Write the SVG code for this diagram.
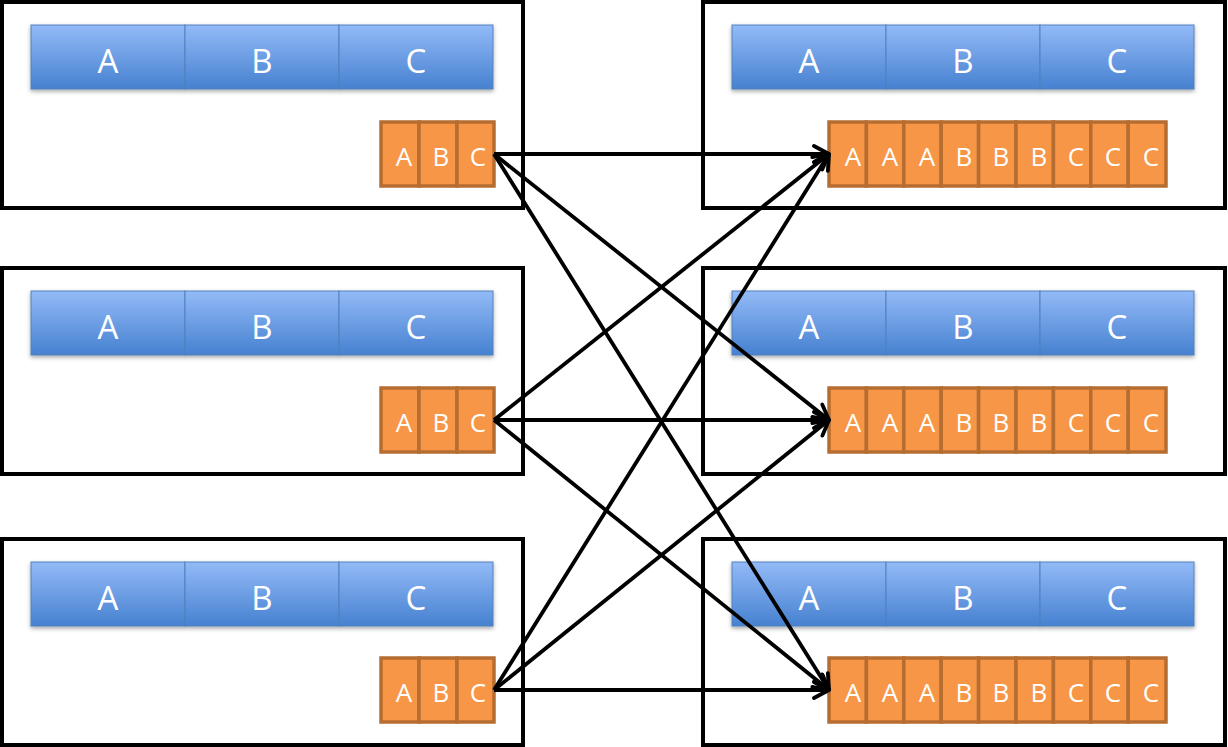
<svg xmlns="http://www.w3.org/2000/svg" width="1228" height="747" viewBox="0 0 1228 747">
<style>
.frame{fill:#fff;stroke:#000;stroke-width:4}
.blue{fill:url(#bg);stroke:#4f81bd;stroke-width:1.2;stroke-opacity:.8}
.org{fill:#f79646;stroke:#b66d31;stroke-width:3.5}
.bt{font-family:"Open Sans","Liberation Sans",sans-serif;font-size:33px;fill:#fff;text-anchor:middle}
.ot{font-family:"Open Sans","Liberation Sans",sans-serif;font-size:26px;fill:#fff;text-anchor:middle}
.conn{stroke:#000;stroke-width:3.8;fill:none;marker-end:url(#ah)}
</style>
<defs>
<linearGradient id="bg" x1="0" y1="0" x2="0" y2="1">
<stop offset="0" stop-color="#93baf7"/>
<stop offset="1" stop-color="#4681d0"/>
</linearGradient>
<filter id="sh" x="-5%" y="-20%" width="110%" height="160%">
<feDropShadow dx="0" dy="2" stdDeviation="2" flood-color="#000" flood-opacity="0.35"/>
</filter>
<marker id="ah" viewBox="0 0 20 20" refX="18" refY="10" markerWidth="20" markerHeight="20" markerUnits="userSpaceOnUse" orient="auto">
<path d="M3,2 L18,10 L3,18" fill="none" stroke="#000" stroke-width="3.8" stroke-linecap="round" stroke-linejoin="round"/>
</marker>
<g id="blueBar">
<g filter="url(#sh)">
<rect class="blue" x="0" y="0" width="154" height="64"/>
<rect class="blue" x="154" y="0" width="154" height="64"/>
<rect class="blue" x="308" y="0" width="154" height="64"/>
</g>
<text class="bt" x="77" y="48">A</text>
<text class="bt" x="231" y="48">B</text>
<text class="bt" x="385" y="48">C</text>
</g>
<g id="smallOrg">
<rect class="org" x="0" y="0" width="38" height="64"/>
<rect class="org" x="38" y="0" width="38" height="64"/>
<rect class="org" x="76" y="0" width="37" height="64"/>
<text class="ot" x="23" y="44">A</text>
<text class="ot" x="60" y="44">B</text>
<text class="ot" x="97" y="44">C</text>
</g>
<g id="bigOrg">
<rect class="org" x="0" y="0" width="37.4" height="64"/>
<rect class="org" x="37.4" y="0" width="37.4" height="64"/>
<rect class="org" x="74.8" y="0" width="37.4" height="64"/>
<rect class="org" x="112.2" y="0" width="37.4" height="64"/>
<rect class="org" x="149.6" y="0" width="37.4" height="64"/>
<rect class="org" x="187" y="0" width="37.4" height="64"/>
<rect class="org" x="224.4" y="0" width="37.4" height="64"/>
<rect class="org" x="261.8" y="0" width="37.4" height="64"/>
<rect class="org" x="299.2" y="0" width="37.8" height="64"/>
<text class="ot" x="24" y="44">A</text>
<text class="ot" x="61" y="44">A</text>
<text class="ot" x="98" y="44">A</text>
<text class="ot" x="135" y="44">B</text>
<text class="ot" x="172" y="44">B</text>
<text class="ot" x="210" y="44">B</text>
<text class="ot" x="247" y="44">C</text>
<text class="ot" x="284" y="44">C</text>
<text class="ot" x="322" y="44">C</text>
</g>
</defs>

<g id="src1">
<rect class="frame" x="2" y="2" width="521" height="206"/>
<use href="#blueBar" x="31" y="25"/>
<use href="#smallOrg" x="381" y="122"/>
</g>
<g id="src2">
<rect class="frame" x="2" y="268" width="521" height="206"/>
<use href="#blueBar" x="31" y="291"/>
<use href="#smallOrg" x="381" y="388"/>
</g>
<g id="src3">
<rect class="frame" x="2" y="539" width="521" height="206"/>
<use href="#blueBar" x="31" y="562"/>
<use href="#smallOrg" x="381" y="658"/>
</g>
<g id="dst1">
<rect class="frame" x="703" y="2" width="522" height="206"/>
<use href="#blueBar" x="732" y="25"/>
<use href="#bigOrg" x="829" y="122"/>
</g>
<g id="dst2">
<rect class="frame" x="703" y="268" width="522" height="206"/>
<use href="#blueBar" x="732" y="291"/>
<use href="#bigOrg" x="829" y="388"/>
</g>
<g id="dst3">
<rect class="frame" x="703" y="539" width="522" height="206"/>
<use href="#blueBar" x="732" y="562"/>
<use href="#bigOrg" x="829" y="658"/>
</g>

<g id="connectors">
<line class="conn" x1="494" y1="154" x2="829" y2="154"/>
<line class="conn" x1="494" y1="154" x2="829" y2="420"/>
<line class="conn" x1="494" y1="154" x2="829" y2="690"/>
<line class="conn" x1="494" y1="420" x2="829" y2="154"/>
<line class="conn" x1="494" y1="420" x2="829" y2="420"/>
<line class="conn" x1="494" y1="420" x2="829" y2="690"/>
<line class="conn" x1="494" y1="690" x2="829" y2="154"/>
<line class="conn" x1="494" y1="690" x2="829" y2="420"/>
<line class="conn" x1="494" y1="690" x2="829" y2="690"/>
</g>
</svg>
